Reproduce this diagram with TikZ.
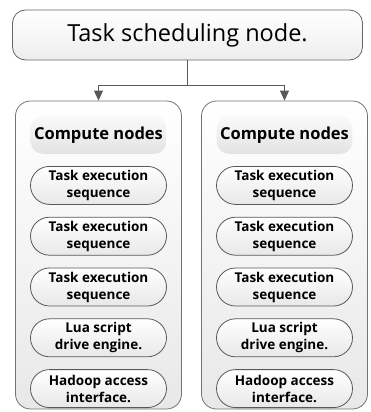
\documentclass[tikz,border=0pt]{standalone}
\usepackage{fontspec}
\setmainfont{Open Sans}
\usetikzlibrary{positioning,arrows.meta}
\tikzset{
  schednode/.style = {shape=rectangle, rounded corners=13pt,
                      draw=black!60, line width=0.8pt,
                      top color=white, bottom color=black!7,
                      minimum width=350pt, minimum height=50pt,
                      font=\fontsize{23.5}{28}\selectfont},
  group/.style     = {shape=rectangle, rounded corners=15pt,
                      draw=black!55, line width=0.8pt,
                      top color=white, bottom color=black!9,
                      minimum width=166pt, minimum height=308pt},
  header/.style    = {shape=rectangle, rounded corners=12pt,
                      top color=black!2, bottom color=black!11,
                      minimum width=132pt, minimum height=38pt,
                      font=\bfseries\fontsize{16.5}{19}\selectfont},
  task/.style      = {shape=rectangle, rounded corners=19pt,
                      draw=black!65, line width=0.8pt, align=center,
                      top color=white, bottom color=black!9,
                      minimum width=136pt, minimum height=38pt, inner sep=0pt,
                      font=\bfseries\fontsize{13.5}{17}\selectfont}
}

\begin{document}
\begin{tikzpicture}
  [
    x=1pt, y=1pt,
    level distance          = 220pt,
    sibling distance        = 186pt,
    edge from parent/.style = {draw=black!65, line width=0.8pt,
                               -{Triangle[length=10pt,width=9pt]}},
    edge from parent path   = {(\tikzparentnode.south) -- ++(0,-25pt)
                               -| (\tikzchildnode.north)}
  ]
  \useasboundingbox (0,0) rectangle (371,-412);
  \node [schednode] (sched) at (187.5,-35) {Task scheduling node.}
    child [xshift=4pt] { node [group] (left) {} }
    child [xshift=4pt] { node [group] (right) {} };

  % the two compute groups
  \foreach \grp in {left,right}{
    \node [header, below=15pt of \grp.north] (\grp-0) {Compute nodes};
    \foreach \txt [count=\i, remember=\i as \j (initially 0)] in
      {Task execution\\sequence, Task execution\\sequence,
       Task execution\\sequence, Lua script\\drive engine.,
       Hadoop access\\interface.}
      \node [task, below=12pt of \grp-\j] (\grp-\i) {\txt};
  }
\end{tikzpicture}
\end{document}
